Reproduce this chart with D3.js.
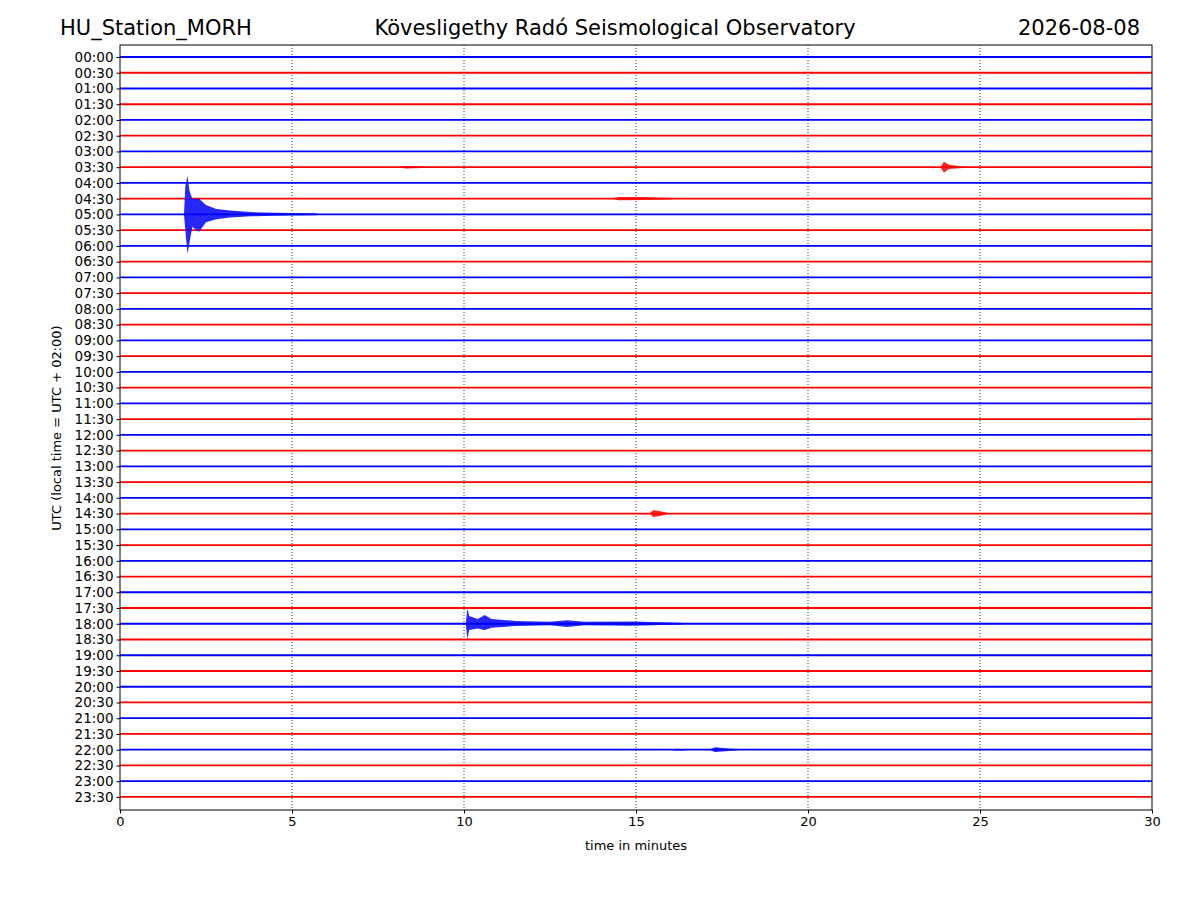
<!DOCTYPE html><html><head><meta charset="utf-8"><script src="https://cdn.jsdelivr.net/npm/d3@7"></script>
<style>body{margin:0;background:#fff}text{font-family:"DejaVu Sans",sans-serif}</style></head><body><svg width="1200" height="900"></svg>
<script>
const rowLabels=[];for(let h=0;h<24;h++){for(const m of ["00","30"])rowLabels.push(String(h).padStart(2,"0")+":"+m);}
const xTicks=[0,5,10,15,20,25,30];
// events: row index, envelope points [minute, up, down] in row-spacing units
const events=[
 {row:10,env:[[1.86,0,0],[1.9,1.8,1.0],[1.96,2.45,2.5],[2.02,1.5,1.8],[2.1,1.0,0.8],[2.3,1.0,1.1],[2.5,0.6,0.5],[2.8,0.35,0.3],[3.2,0.25,0.2],[3.8,0.15,0.12],[4.5,0.1,0.08],[5.7,0.07,0.06],[5.8,0,0]]},
 {row:36,env:[[10.05,0,0],[10.1,1.0,1.0],[10.15,0.5,0.4],[10.4,0.3,0.3],[10.6,0.55,0.4],[10.8,0.3,0.25],[11.5,0.18,0.15],[12.5,0.12,0.1],[13.0,0.22,0.2],[13.5,0.12,0.1],[14.9,0.15,0.12],[16.3,0.06,0.05],[16.5,0,0]]},
 {row:7,env:[[23.85,0,0],[23.95,0.35,0.35],[24.1,0.15,0.12],[24.5,0.05,0.05],[24.6,0,0]]},
 {row:7,env:[[8.1,0,0],[8.3,0.08,0.08],[8.8,0.05,0.05],[8.9,0,0]]},
 {row:9,env:[[14.3,0,0],[14.5,0.1,0.1],[15.2,0.1,0.08],[16.0,0.05,0.05],[16.1,0,0]]},
 {row:29,env:[[15.4,0,0],[15.5,0.22,0.22],[15.7,0.15,0.15],[15.9,0.05,0.05],[16.0,0,0]]},
 {row:44,env:[[16.0,0,0],[16.2,0.06,0.06],[16.6,0,0],[17.1,0,0],[17.3,0.15,0.15],[17.6,0.1,0.1],[17.9,0.05,0.05],[18.0,0,0]]}
];
const svg=d3.select("svg");
const L=120,R=1152,T=45,B=810;
const x=d3.scaleLinear().domain([0,30]).range([L,R]);
const y=d3.scaleLinear().domain([-0.762,47.83]).range([T,B]);
const g=svg.append("g");
xTicks.slice(1,-1).forEach(t=>g.append("line").attr("x1",x(t)).attr("x2",x(t)).attr("y1",T).attr("y2",B).attr("stroke","#000").attr("stroke-width",0.8).attr("stroke-dasharray","1,2"));
const col=i=>i%2?"#f00":"#00f";
rowLabels.forEach((l,i)=>g.append("line").attr("x1",x(0)).attr("x2",x(30)).attr("y1",y(i)).attr("y2",y(i)).attr("stroke",col(i)).attr("stroke-width",1.8));
events.forEach(e=>{
 const a=d3.area().x(d=>x(d[0])).y0(d=>y(e.row+d[2])).y1(d=>y(e.row-d[1]));
 g.append("path").attr("d",a(e.env)).attr("fill",col(e.row)).attr("opacity",0.85);
});
svg.append("rect").attr("x",L).attr("y",T).attr("width",R-L).attr("height",B-T).attr("fill","none").attr("stroke","#000");
svg.append("g").attr("transform",`translate(0,${B})`).call(d3.axisBottom(x).tickValues(xTicks).tickSizeOuter(0).tickSize(3.5)).call(s=>{s.select(".domain").remove();s.selectAll("text").attr("font-size",13).attr("font-family","DejaVu Sans")});
svg.append("g").attr("transform",`translate(${L},0)`).call(d3.axisLeft(y).tickValues(d3.range(48)).tickFormat(i=>rowLabels[i]).tickSize(3.5)).call(s=>{s.select(".domain").remove();s.selectAll("text").attr("font-size",13.5).attr("font-family","DejaVu Sans")});
svg.append("text").attr("x",636).attr("y",850).attr("text-anchor","middle").attr("font-size",13).text("time in minutes");
svg.append("text").attr("transform","translate(61,428) rotate(-90)").attr("text-anchor","middle").attr("font-size",13).text("UTC (local time = UTC + 02:00)");
svg.append("text").attr("x",60).attr("y",35).attr("font-size",21).text("HU_Station_MORH");
svg.append("text").attr("x",615).attr("y",35).attr("text-anchor","middle").attr("font-size",21).text("Kövesligethy Radó Seismological Observatory");
svg.append("text").attr("x",1140).attr("y",35).attr("text-anchor","end").attr("font-size",21).text("2026-08-08");
</script></body></html>
